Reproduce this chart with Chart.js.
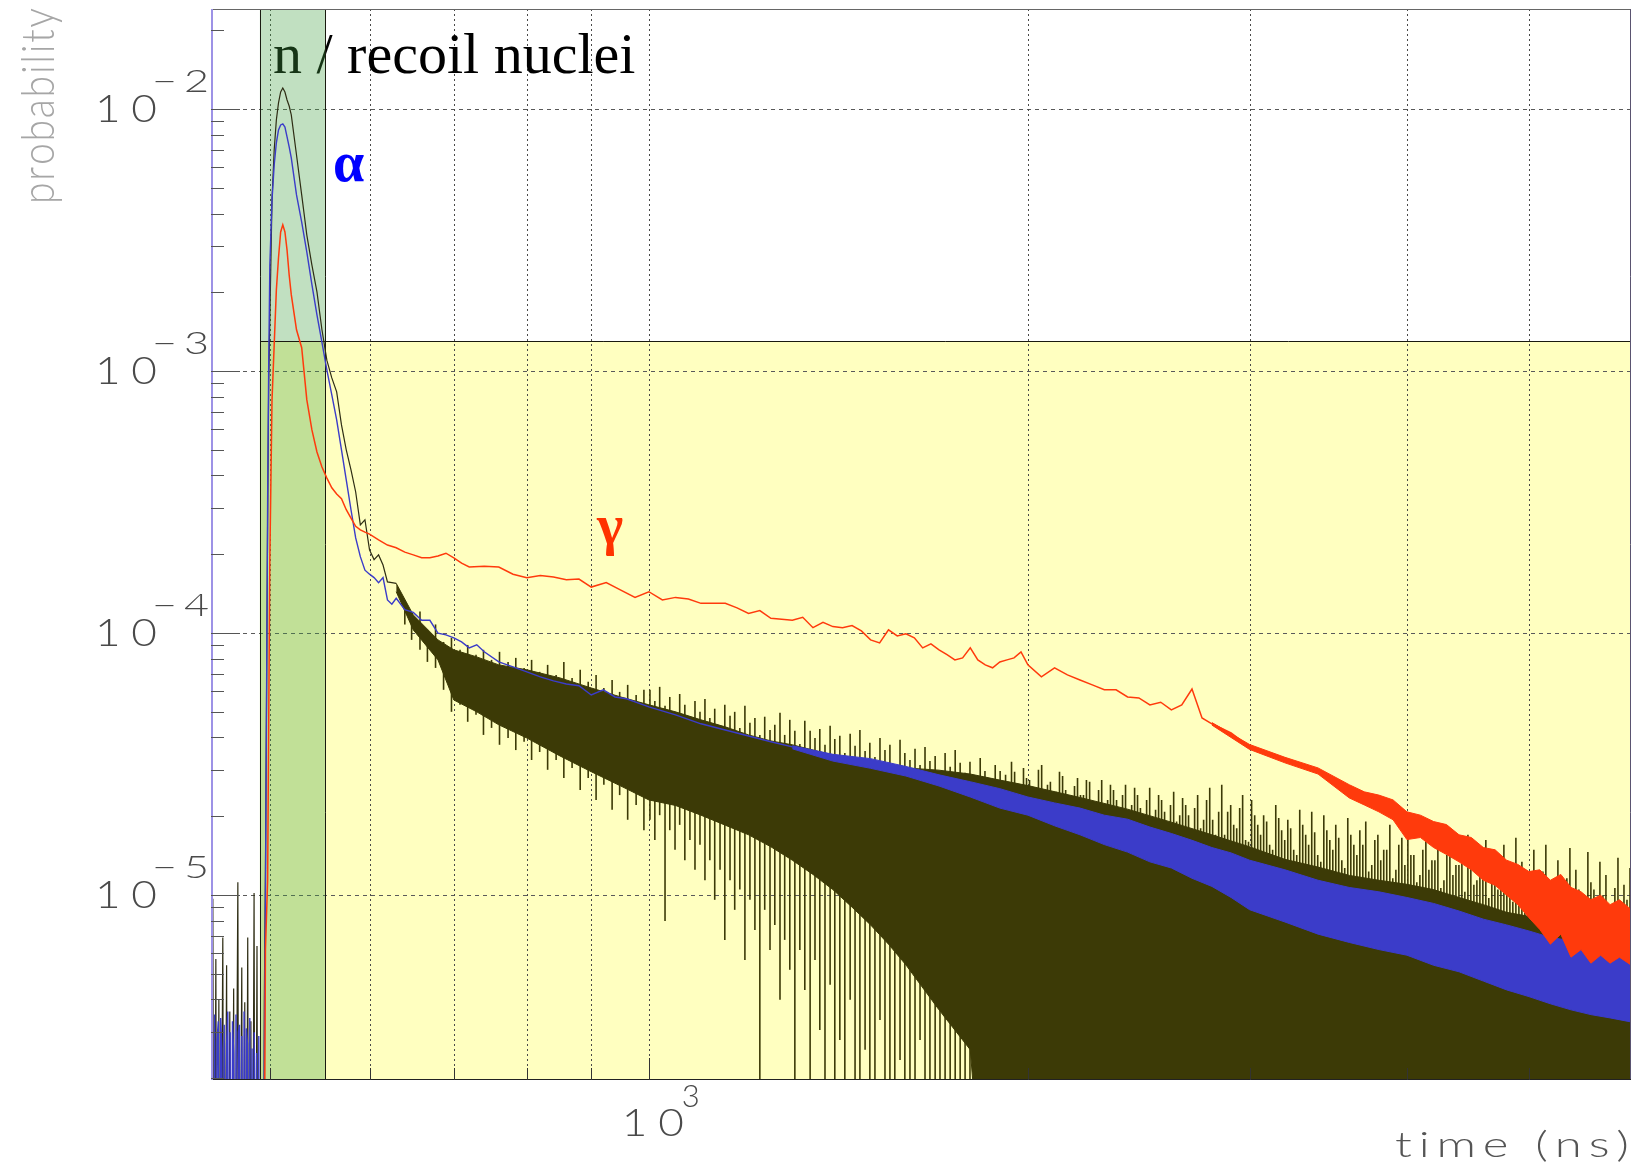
<!DOCTYPE html>
<html>
<head>
<meta charset="utf-8">
<script src="https://cdn.jsdelivr.net/npm/chart.js@4/dist/chart.umd.min.js"></script>
<style>
html, body { margin: 0; padding: 0; background: #ffffff; }
canvas { display: block; }
</style>
</head>
<body>
<canvas id="c" width="1632" height="1168" style="width:1632px;height:1168px"></canvas>
<script>
// ---------------- data ----------------
// gamma (red) histogram
const gammaTime = [450,494,496,498,500,502,504,506,508,510,512,514,516,518,520,
  525,530,535,540,545,550,555,560,565,570,575,580,585,590,595,600,
  610,620,630,640,650,660,670,680,690,700,710,720,
  740,760,780,800,820,840,860,880,900,
  925,950,975,1000,1025,1050,1075,1100,1125,1150,1175,1200,1225,1250,1275,1300,1325,1350,1375,1400,
  1425,1450,1475,1500,1525,1550,1575,1600,1625,1650,1675,1700,1725,1750,1775,1800,1825,1850,1875,1900,
  1925,1950,1975,2000,
  2050,2100,2150,2200,2250,2300,2350,2400,2450,2500,2550,2600,2650,2700,2750,2800,
  2900,3000,3100,3200,3300,3400,3500,3600,3700,3800,3900,4000,
  4200,4400,4600,4800,5000,5200,5400,5600,5800,6030];
const gammaProb = [1e-7,1e-7,6.2e-6,1.14e-5,1.91e-4,7.77e-4,1.26e-3,2.04e-3,2.71e-3,3.40e-3,3.62e-3,3.40e-3,2.90e-3,2.33e-3,1.96e-3,
  1.44e-3,1.23e-3,7.77e-4,5.97e-4,4.92e-4,4.31e-4,3.91e-4,3.59e-4,3.40e-4,3.26e-4,2.96e-4,2.75e-4,2.56e-4,2.48e-4,2.43e-4,2.39e-4,
  2.27e-4,2.17e-4,2.12e-4,2.04e-4,1.99e-4,1.94e-4,1.94e-4,1.97e-4,2.02e-4,1.94e-4,1.85e-4,1.79e-4,
  1.80e-4,1.79e-4,1.68e-4,1.63e-4,1.66e-4,1.64e-4,1.60e-4,1.61e-4,1.50e-4,
  1.56e-4,1.46e-4,1.37e-4,1.44e-4,1.34e-4,1.37e-4,1.35e-4,1.30e-4,1.30e-4,1.30e-4,1.25e-4,1.19e-4,1.22e-4,1.14e-4,1.13e-4,1.12e-4,1.15e-4,1.05e-4,1.10e-4,1.06e-4,
  1.05e-4,1.07e-4,1.02e-4,9.43e-5,9.18e-5,1.03e-4,9.76e-5,9.94e-5,9.60e-5,8.79e-5,9.10e-5,8.64e-5,8.28e-5,7.91e-5,8.05e-5,8.79e-5,7.91e-5,7.57e-5,7.38e-5,7.77e-5,
  7.91e-5,8.05e-5,8.49e-5,7.57e-5,
  6.81e-5,7.38e-5,6.93e-5,6.63e-5,6.35e-5,6.08e-5,6.08e-5,5.71e-5,5.66e-5,5.32e-5,5.45e-5,5.10e-5,5.32e-5,6.12e-5,4.75e-5,4.51e-5,
  4.16e-5,3.68e-5,3.46e-5,3.28e-5,3.09e-5,2.98e-5,2.80e-5,2.52e-5,2.37e-5,2.28e-5,2.15e-5,1.81e-5,
  1.71e-5,1.45e-5,1.29e-5,1.14e-5,9.6e-6,8.4e-6,8.0e-6,7.2e-6,7.0e-6,6.8e-6];
// gamma: spread of the noisy tail
const gammaBandTime = [2800,3000,3200,3400,3600,3700,3800,3900,4000,4100,4200,4300,4400,4500,4600,4700,4800,4900,5000,5100,5200,5300,5400,5500,5600,5700,5800,5900,6030];
const gammaBandHigh = [4.56e-5,3.76e-5,3.36e-5,3.06e-5,2.64e-5,2.48e-5,2.41e-5,2.31e-5,2.08e-5,2.02e-5,1.91e-5,1.86e-5,1.70e-5,1.66e-5,1.52e-5,1.49e-5,1.36e-5,1.31e-5,1.23e-5,1.25e-5,1.14e-5,1.20e-5,1.07e-5,1.03e-5,9.6e-6,1.0e-5,9.2e-6,9.6e-6,8.8e-6];
const gammaBandLow = [4.46e-5,3.6e-5,3.2e-5,2.9e-5,2.35e-5,2.21e-5,2.08e-5,1.94e-5,1.63e-5,1.66e-5,1.52e-5,1.43e-5,1.34e-5,1.25e-5,1.14e-5,1.09e-5,1.0e-5,9.2e-6,8.2e-6,7.4e-6,6.5e-6,7.1e-6,5.8e-6,6.2e-6,5.5e-6,5.9e-6,5.5e-6,5.8e-6,5.4e-6];

// alpha (blue) histogram
const alphaTime = [449,450,451,452,453,454,455,456,457,458,459,460,461,462,463,464,465,466,467,468,469,470,
  471,472,473,474,475,476,477,478,479,480,481,482,483,484,485,486,487,488,489,490,491,
  494,495,496,497,498,499,500,502,504,506,508,510,512,514,516,518,520,
  525,530,535,540,545,550,555,560,565,570,575,580,585,590,595,600,605,610,615,620,625,630,
  640,650,660,670,680,690,700,710,720,730,740,
  760,780,800,820,840,860,880,900,920,940,960,980,1000,
  1050,1100,1150,1200,1250,1300,1350,1400,1450,1500,1550,1600,1650,1700,1750,1800,1850,1900,1950,2000,
  2100,2200,2300,2400,2500,2600,2700,2800,
  3000,3200,3400,3600,3800,4000,4200,4400,4600,4800,5000,5200,5400,5600,5800,6030];
const alphaProb = [1e-7,3.1e-6,1e-7,3.5e-6,1e-7,2.8e-6,3.3e-6,1e-7,3.4e-6,2.6e-6,1e-7,3.2e-6,1e-7,2.7e-6,3.6e-6,1e-7,3.0e-6,1e-7,3.3e-6,2.5e-6,1e-7,3.5e-6,
  1e-7,3.0e-6,3.2e-6,1e-7,2.9e-6,1e-7,3.6e-6,1e-7,3.1e-6,2.7e-6,1e-7,3.4e-6,1e-7,2.6e-6,1e-7,3.0e-6,1e-7,2.5e-6,1e-7,2.9e-6,1e-7,
  1e-7,2.6e-6,9.6e-6,5.56e-5,3.23e-4,1.10e-3,2.54e-3,4.51e-3,6.13e-3,7.44e-3,8.34e-3,8.71e-3,8.79e-3,8.55e-3,7.84e-3,7.18e-3,6.52e-3,
  4.71e-3,3.71e-3,2.85e-3,2.14e-3,1.64e-3,1.29e-3,1.01e-3,8.12e-4,6.52e-4,5.01e-4,3.85e-4,2.96e-4,2.31e-4,1.96e-4,1.74e-4,1.68e-4,1.63e-4,1.56e-4,1.63e-4,1.34e-4,1.29e-4,1.36e-4,
  1.23e-4,1.20e-4,1.12e-4,1.12e-4,1.00e-4,9.86e-5,9.60e-5,9.27e-5,8.79e-5,9.03e-5,8.49e-5,
  7.77e-5,7.44e-5,7.12e-5,6.81e-5,6.58e-5,6.40e-5,6.30e-5,5.81e-5,6.08e-5,5.71e-5,5.62e-5,5.42e-5,5.23e-5,
  4.88e-5,4.51e-5,4.27e-5,4.05e-5,3.85e-5,3.68e-5,3.52e-5,3.37e-5,3.31e-5,3.20e-5,3.11e-5,2.98e-5,2.85e-5,2.73e-5,2.64e-5,2.54e-5,2.46e-5,2.37e-5,2.28e-5,2.19e-5,
  2.04e-5,1.91e-5,1.77e-5,1.67e-5,1.56e-5,1.48e-5,1.39e-5,1.31e-5,
  1.17e-5,1.05e-5,9.43e-6,8.64e-6,8.04e-6,7.50e-6,7.06e-6,6.63e-6,6.30e-6,5.92e-6,5.66e-6,5.42e-6,5.19e-6,4.96e-6,4.75e-6,4.59e-6];
// alpha: spread of the noisy tail
const alphaBandTime = [1300,1400,1500,1600,1700,1800,1900,2000,2100,2200,2300,2400,2500,2600,2700,2800,2900,3000,3200,3400,3600,3800,4000,4200,4400,4600,4800,5000,5200,5400,5600,5800,6030];
const alphaBandHigh = [3.72e-5,3.45e-5,3.32e-5,3.10e-5,2.88e-5,2.71e-5,2.55e-5,2.37e-5,2.25e-5,2.15e-5,2.02e-5,1.95e-5,1.82e-5,1.72e-5,1.62e-5,1.52e-5,1.45e-5,1.36e-5,1.25e-5,1.14e-5,1.07e-5,1.03e-5,9.8e-6,9.3e-6,8.7e-6,8.1e-6,7.7e-6,7.3e-6,6.9e-6,6.7e-6,6.45e-6,6.35e-6,6.2e-6];
const alphaBandLow = [3.62e-5,3.25e-5,3.05e-5,2.85e-5,2.61e-5,2.37e-5,2.15e-5,2.02e-5,1.84e-5,1.70e-5,1.56e-5,1.46e-5,1.34e-5,1.27e-5,1.16e-5,1.08e-5,9.8e-6,8.8e-6,7.9e-6,7.1e-6,6.6e-6,6.2e-6,5.9e-6,5.4e-6,5.1e-6,4.7e-6,4.35e-6,4.1e-6,3.85e-6,3.65e-6,3.5e-6,3.4e-6,3.28e-6];

// n / recoil nuclei (dark) histogram: clean part
const nTime = [449,450.5,451.5,453,454,455.5,456.5,458.8,459.8,462,463,464.7,465.7,468,469,471.6,472.6,475,476,477.6,478.6,480.2,481.2,483,484,485.8,486.8,488.4,489.4,
  494,495,496,497,498,499,500,502,504,506,508,510,512,514,516,518,520,
  525,530,535,540,545,550,555,560,565,570,575,580,585,590,595,600,605,610,615,620,625,630];
const nProb = [1e-7,9.7e-6,1e-7,5.7e-6,1e-7,4.0e-6,1e-7,6.9e-6,1e-7,5.4e-6,1e-7,3.6e-6,1e-7,4.4e-6,1e-7,1.12e-5,1e-7,5.3e-6,1e-7,3.9e-6,1e-7,6.9e-6,1e-7,3.3e-6,1e-7,1.02e-5,1e-7,6.4e-6,1e-7,
  1e-7,4.0e-6,1.25e-5,5.56e-5,2.71e-4,9.26e-4,1.57e-3,4.51e-3,6.99e-3,9.10e-3,1.057e-2,1.164e-2,1.206e-2,1.164e-2,1.085e-2,1.029e-2,9.51e-3,
  6.69e-3,4.71e-3,3.31e-3,2.54e-3,2.01e-3,1.44e-3,1.10e-3,9.43e-4,8.34e-4,6.24e-4,5.01e-4,4.20e-4,3.46e-4,2.59e-4,2.71e-4,2.08e-4,1.91e-4,1.99e-4,1.82e-4,1.57e-4,1.56e-4,1.55e-4];
// n / recoil nuclei: dense core of the noisy part (upper and lower edge)
const nBandTime = [630,650,680,700,730,760,800,850,900,950,1000,
  1050,1100,1150,1200,1250,1300,1350,1400,1450,1500,1550,1600,
  1700,1800,1900,2000,2200,2400,2600,2800,3000,
  3200,3400,3600,3800,4000,4200,4400,4600,4800,5000,5200,5400,5600,5800,6030];
const nBandHigh = [1.55e-4,1.174e-4,9.43e-5,8.64e-5,8.12e-5,7.57e-5,7.25e-5,6.75e-5,6.18e-5,5.71e-5,5.33e-5,
  5.01e-5,4.67e-5,4.39e-5,4.09e-5,3.88e-5,3.75e-5,3.58e-5,3.43e-5,3.34e-5,3.26e-5,3.14e-5,3.06e-5,
  3.0e-5,2.9e-5,2.75e-5,2.62e-5,2.36e-5,2.13e-5,1.90e-5,1.70e-5,1.53e-5,
  1.37e-5,1.28e-5,1.19e-5,1.14e-5,1.10e-5,1.05e-5,9.8e-6,9.2e-6,8.6e-6,8.3e-6,7.8e-6,7.6e-6,7.3e-6,7.2e-6,7.0e-6];
const nBandLow = [1.44e-4,1.029e-4,7.91e-5,5.56e-5,5.01e-5,4.47e-5,3.98e-5,3.40e-5,2.96e-5,2.61e-5,2.31e-5,
  2.2e-5,2.02e-5,1.85e-5,1.70e-5,1.53e-5,1.36e-5,1.2e-5,1.05e-5,9.0e-6,7.7e-6,6.5e-6,5.42e-6,
  3.65e-6,2.57e-6,1e-7,1e-7,1e-7,1e-7,1e-7,1e-7,1e-7,
  1e-7,1e-7,1e-7,1e-7,1e-7,1e-7,1e-7,1e-7,1e-7,1e-7,1e-7,1e-7,1e-7,1e-7,1e-7];
// n / recoil nuclei: individual bin-to-bin fluctuations (time, top, bottom)
const nSpikeTime = [640,648,658,667,677,687,697,708,718,729,739,750,761,773,784,796,807,819,831,844,856,869,882,895,908,921,935,948,962,977,991,
  1002,1011,1020,1030,1039,1049,1058,1068,1078,1088,1098,1108,1118,1128,1139,1149,1160,1170,1181,1192,
  1203,1214,1225,1236,1248,1259,1271,1282,1294,1306,1318,1330,1343,1355,1367,1380,1393,1405,1418,1431,
  1445,1458,1471,1485,1498,1512,1526,1540,1554,1568,1583,1597,1612,1627,1642,1657,1672,1688,1703,1719,
  1735,1751,1767,1783,1799,1816,1833,1849,1866,1884,1901,
  1920,1941,1963,1984,2006,2028,2051,2073,2096,2119,2143,2166,2190,2214,2239,2264,2289,2314,2339,2365,
  2391,2418,2444,2471,2499,2526,2554,2582,2611,2640,2669,2698,2728,2758,2789,2819,2851,2882,2914,2946,
  2978,3011,3045,3078,3112,3147,3181,3217,3252,3288,3324,3361,3398,3436,3474,3512,3551,3590,3630,3670,
  3710,3751,3793,3834,3877,3920,3963,4007,4051,4096,4141,4187,4233,4280,4327,4375,4423,4472,4521,4571,
  4621,4672,4724,4776,4829,4882,4936,4990,5045,5101,5157,5214,5272,5330,5389,5448,5509,5569,5631,5693,
  5756,5819,5884,5949,6015];
const nSpikeHigh = [1.28e-4,1.12e-4,1.21e-4,1.03e-4,1.08e-4,9.26e-5,9.6e-5,8.64e-5,9.02e-5,8.27e-5,8.64e-5,7.91e-5,8.49e-5,7.77e-5,8.05e-5,7.37e-5,7.91e-5,7.12e-5,7.57e-5,6.93e-5,7.77e-5,6.75e-5,7.25e-5,6.52e-5,6.93e-5,6.18e-5,6.63e-5,5.97e-5,6.35e-5,5.81e-5,6.08e-5,
  6.08e-5,5.51e-5,6.24e-5,5.28e-5,5.71e-5,5.01e-5,5.86e-5,5.33e-5,4.71e-5,5.51e-5,5.01e-5,5.61e-5,4.75e-5,5.15e-5,4.35e-5,5.33e-5,4.84e-5,5.01e-5,4.35e-5,5.28e-5,
  4.55e-5,4.75e-5,4.09e-5,4.80e-5,4.27e-5,4.47e-5,4.97e-5,4.09e-5,4.67e-5,4.24e-5,3.78e-5,4.63e-5,4.24e-5,3.98e-5,4.31e-5,3.75e-5,4.43e-5,3.95e-5,4.06e-5,3.49e-5,
  4.13e-5,3.72e-5,4.27e-5,3.55e-5,3.82e-5,3.37e-5,3.98e-5,3.58e-5,3.75e-5,3.14e-5,3.92e-5,3.49e-5,3.28e-5,3.62e-5,3.14e-5,3.68e-5,3.25e-5,3.40e-5,2.96e-5,3.49e-5,
  3.09e-5,3.58e-5,3.20e-5,2.93e-5,3.23e-5,2.71e-5,3.34e-5,2.98e-5,2.80e-5,3.14e-5,2.98e-5,
  2.88e-5,3.23e-5,2.52e-5,3.06e-5,2.75e-5,2.41e-5,3.14e-5,2.64e-5,2.31e-5,2.96e-5,2.52e-5,2.21e-5,2.80e-5,2.41e-5,2.71e-5,2.12e-5,2.75e-5,2.31e-5,2.52e-5,2.02e-5,
  2.64e-5,2.21e-5,2.41e-5,1.94e-5,2.57e-5,2.12e-5,2.31e-5,1.855e-5,2.48e-5,2.02e-5,2.21e-5,1.77e-5,2.41e-5,1.94e-5,2.57e-5,1.70e-5,2.64e-5,2.08e-5,1.855e-5,2.15e-5,
  1.625e-5,2.31e-5,1.855e-5,2.02e-5,1.556e-5,2.21e-5,1.77e-5,1.94e-5,1.49e-5,2.12e-5,1.70e-5,2.08e-5,1.425e-5,2.02e-5,1.625e-5,1.855e-5,1.36e-5,1.97e-5,1.556e-5,1.77e-5,
  1.91e-5,1.305e-5,1.70e-5,1.49e-5,1.855e-5,1.25e-5,1.655e-5,1.91e-5,1.425e-5,1.195e-5,1.74e-5,1.36e-5,1.556e-5,1.14e-5,1.80e-5,1.305e-5,1.49e-5,1.70e-5,1.095e-5,1.425e-5,
  1.625e-5,1.25e-5,1.05e-5,1.556e-5,1.195e-5,1.655e-5,1.34e-5,1.0e-5,1.49e-5,1.14e-5,1.556e-5,9.6e-6,1.36e-5,1.095e-5,1.515e-5,1.25e-5,9.18e-6,1.46e-5,1.05e-5,1.34e-5,
  1.195e-5,8.79e-6,1.39e-5,1.095e-5,1.27e-5];
const nSpikeLow = [1.08e-4,9.43e-5,8.64e-5,7.77e-5,7.37e-5,6.08e-5,5.01e-5,5.33e-5,4.59e-5,4.88e-5,4.09e-5,4.35e-5,3.75e-5,3.98e-5,3.58e-5,3.85e-5,3.28e-5,3.52e-5,3.01e-5,3.28e-5,2.80e-5,3.06e-5,2.52e-5,2.80e-5,2.31e-5,2.64e-5,2.12e-5,2.41e-5,1.94e-5,2.21e-5,1.77e-5,
  1.94e-5,1.625e-5,2.02e-5,7.97e-6,1.77e-5,1.49e-5,1.855e-5,1.36e-5,1.625e-5,1.25e-5,1.556e-5,1.14e-5,1.36e-5,9.6e-6,1.25e-5,6.75e-6,1.14e-5,8.79e-6,1.05e-5,5.66e-6,
  9.6e-6,7.37e-6,1e-7,8.79e-6,6.18e-6,7.70e-6,3.99e-6,6.75e-6,5.19e-6,1e-7,6.18e-6,4.35e-6,1e-7,5.66e-6,3.06e-6,1e-7,4.55e-6,1e-7,2.80e-6,1e-7,
  3.99e-6,1e-7,1e-7,2.57e-6,1e-7,1e-7,3.34e-6,1e-7,1e-7,1e-7,2.35e-6,1e-7,1e-7,1e-7,2.80e-6,1e-7,1e-7,1e-7,1e-7,1e-7,
  1e-7,1e-7,1e-7,1e-7,1e-7,1e-7,1e-7,1e-7,1e-7,1e-7,1e-7,
  1e-7,1e-7,1e-7,1e-7,1e-7,1e-7,1e-7,1e-7,1e-7,1e-7,1e-7,1e-7,1e-7,1e-7,1e-7,1e-7,1e-7,1e-7,1e-7,1e-7,
  1e-7,1e-7,1e-7,1e-7,1e-7,1e-7,1e-7,1e-7,1e-7,1e-7,1e-7,1e-7,1e-7,1e-7,1e-7,1e-7,1e-7,1e-7,1e-7,1e-7,
  1e-7,1e-7,1e-7,1e-7,1e-7,1e-7,1e-7,1e-7,1e-7,1e-7,1e-7,1e-7,1e-7,1e-7,1e-7,1e-7,1e-7,1e-7,1e-7,1e-7,
  1e-7,1e-7,1e-7,1e-7,1e-7,1e-7,1e-7,1e-7,1e-7,1e-7,1e-7,1e-7,1e-7,1e-7,1e-7,1e-7,1e-7,1e-7,1e-7,1e-7,
  1e-7,1e-7,1e-7,1e-7,1e-7,1e-7,1e-7,1e-7,1e-7,1e-7,1e-7,1e-7,1e-7,1e-7,1e-7,1e-7,1e-7,1e-7,1e-7,1e-7,
  1e-7,1e-7,1e-7,1e-7,1e-7];
// n / recoil nuclei: further fluctuations in the late tail (time, top, bottom)
const nSpike2Time = [1930,1952,1973,1995,2017,2039,2062,2084,2107,2131,2154,2178,2202,2226,2251,2276,2301,2326,2352,2378,
  2404,2431,2457,2485,2512,2540,2568,2596,2625,2654,2683,2713,2743,2773,2804,2835,2866,2898,2930,2962,
  2994,3028,3061,3095,3129,3164,3199,3234,3270,3306,3342,3379,3417,3455,3493,3531,3570,3610,3650,3690,
  3730,3772,3813,3855,3898,3941,3985,4029,4073,4118,4164,4210,4256,4303,4351,4399,4447,4496,4546,4596,
  4646,4698,4750,4802,4855,4909,4963,5017,5073,5129,5185,5243,5301,5359,5418,5478,5539,5600,5662,5724,
  5787,5851,5916,5982];
const nSpike2High = [2.64e-5,2.96e-5,2.41e-5,2.80e-5,2.57e-5,3.01e-5,2.35e-5,2.71e-5,2.48e-5,2.85e-5,
  2.31e-5,2.61e-5,2.41e-5,2.75e-5,2.21e-5,2.52e-5,2.08e-5,2.64e-5,2.31e-5,2.41e-5,
  2.02e-5,2.57e-5,2.15e-5,2.31e-5,1.97e-5,2.41e-5,2.08e-5,2.21e-5,1.91e-5,2.35e-5,
  2.02e-5,2.15e-5,1.80e-5,2.31e-5,1.94e-5,2.08e-5,1.70e-5,2.21e-5,1.80e-5,2.41e-5,
  1.60e-5,2.02e-5,1.70e-5,1.91e-5,1.49e-5,1.97e-5,1.625e-5,1.80e-5,1.425e-5,1.855e-5,
  1.556e-5,1.74e-5,1.34e-5,1.77e-5,1.49e-5,1.655e-5,1.27e-5,1.70e-5,1.425e-5,1.556e-5,
  1.23e-5,1.625e-5,1.36e-5,1.49e-5,1.16e-5,1.556e-5,1.305e-5,1.425e-5,1.12e-5,1.49e-5,
  1.25e-5,1.36e-5,1.066e-5,1.425e-5,1.195e-5,1.305e-5,1.03e-5,1.36e-5,1.14e-5,1.25e-5,
  9.76e-6,1.305e-5,1.095e-5,1.195e-5,9.43e-6,1.25e-5,1.05e-5,1.14e-5,8.95e-6,1.23e-5,
  1.0e-5,1.095e-5,8.64e-6,1.16e-5,9.6e-6,1.05e-5,8.19e-6,1.12e-5,9.18e-6,1.0e-5,
  7.91e-6,1.066e-5,8.79e-6,9.6e-6];
const nSpike2Low = [1e-7,1e-7,1e-7,1e-7,1e-7,1e-7,1e-7,1e-7,1e-7,1e-7,1e-7,1e-7,1e-7,1e-7,1e-7,1e-7,1e-7,1e-7,1e-7,1e-7,
  1e-7,1e-7,1e-7,1e-7,1e-7,1e-7,1e-7,1e-7,1e-7,1e-7,1e-7,1e-7,1e-7,1e-7,1e-7,1e-7,1e-7,1e-7,1e-7,1e-7,
  1e-7,1e-7,1e-7,1e-7,1e-7,1e-7,1e-7,1e-7,1e-7,1e-7,1e-7,1e-7,1e-7,1e-7,1e-7,1e-7,1e-7,1e-7,1e-7,1e-7,
  1e-7,1e-7,1e-7,1e-7,1e-7,1e-7,1e-7,1e-7,1e-7,1e-7,1e-7,1e-7,1e-7,1e-7,1e-7,1e-7,1e-7,1e-7,1e-7,1e-7,
  1e-7,1e-7,1e-7,1e-7,1e-7,1e-7,1e-7,1e-7,1e-7,1e-7,1e-7,1e-7,1e-7,1e-7,1e-7,1e-7,1e-7,1e-7,1e-7,1e-7,
  1e-7,1e-7,1e-7,1e-7];

// axes, ticks and labels
const xRange = [449, 6026];
const yRange = [1.97e-6, 0.02414];
const xGridTicks = [500, 600, 700, 800, 900, 1000, 2000, 3000, 4000, 5000];
const xLabelTicks = [1000];
const xLabelExponents = ['3'];
const yDecades = [1e-5, 1e-4, 1e-3, 1e-2];
const yLabelExponents = ['\u22125', '\u22124', '\u22123', '\u22122'];
const xTitle = 'time (ns)';
const yTitle = 'probability';
// highlighted regions: [start time, end time] and [start time, top probability]
const nRegion = [491, 553.5];
const lateRegion = [491, 1.3e-3];
const regionTexts = { n: 'n / recoil nuclei', alpha: '\u03b1', gamma: '\u03b3' };

// ---------------- styling ----------------
const N_COLOR = '#3c3a06';
const ALPHA_COLOR = '#3b3cc9';
const GAMMA_COLOR = '#ff3a0c';
const ROOT_FONT = 'Lato, "DejaVu Sans", sans-serif';
const SERIF = '"Liberation Serif", "Times New Roman", serif';

const pts = (xs, ys) => xs.map((v, i) => ({ x: v, y: ys[i] }));
const ranges = (xs, lo, hi) => xs.map((v, i) => ({ x: v, y: [lo[i], hi[i]] }));
function series(label, xs, ys, color, order, extra) {
  return Object.assign({
    label, data: pts(xs, ys), borderColor: color, backgroundColor: color,
    borderWidth: 1.2, pointRadius: 0, fill: false, tension: 0, order
  }, extra || {});
}
function spikes(label, xs, lo, hi, color, order) {
  return {
    type: 'bar', label, data: ranges(xs, lo, hi), backgroundColor: color,
    borderWidth: 0, grouped: false, maxBarThickness: 1.6, order
  };
}

function rootText(ctx, str, x, y, size, color, targetWidth, spacing, weight) {
  ctx.save();
  ctx.font = `${weight || 300} ${size}px ${ROOT_FONT}`;
  ctx.fillStyle = color;
  ctx.textBaseline = 'alphabetic';
  ctx.textAlign = 'left';
  const chars = Array.from(str);
  const w = chars.map(c => ctx.measureText(c).width);
  const natural = w.reduce((s, v) => s + v, 0) + spacing * (chars.length - 1);
  const sx = targetWidth ? targetWidth / natural : 1;
  ctx.translate(x, y);
  ctx.scale(sx, 1);
  let cx = 0;
  chars.forEach((c, i) => { ctx.fillText(c, cx, 0); cx += w[i] + spacing; });
  ctx.restore();
}

const decor = {
  id: 'decor',
  beforeDatasetsDraw(chart) {
    const { ctx, chartArea: a, scales: { x, y } } = chart;
    ctx.save();
    const lx = x.getPixelForValue(lateRegion[0]);
    const ty = y.getPixelForValue(lateRegion[1]);
    ctx.fillStyle = '#ffffc0';
    ctx.fillRect(lx, ty, a.right - lx, a.bottom - ty);

    ctx.lineWidth = 1;
    ctx.strokeStyle = '#5a5a5a';
    ctx.setLineDash([4, 4]);
    yDecades.forEach(v => {
      const py = Math.round(y.getPixelForValue(v)) + 0.5;
      ctx.beginPath(); ctx.moveTo(a.left, py); ctx.lineTo(a.right, py); ctx.stroke();
    });
    ctx.setLineDash([2, 3]);
    ctx.strokeStyle = '#4a4a4a';
    xGridTicks.forEach(v => {
      const px = Math.round(x.getPixelForValue(v)) + 0.5;
      ctx.beginPath(); ctx.moveTo(px, a.top); ctx.lineTo(px, a.bottom); ctx.stroke();
    });
    ctx.setLineDash([]);

    ctx.font = `58px ${SERIF}`;
    ctx.fillStyle = '#000';
    ctx.textBaseline = 'alphabetic';
    ctx.fillText(regionTexts.n, 273, 73);

    const g0 = x.getPixelForValue(nRegion[0]);
    const g1 = x.getPixelForValue(nRegion[1]);
    ctx.fillStyle = 'rgba(66,162,66,0.33)';
    ctx.fillRect(g0, a.top, g1 - g0, a.bottom - a.top);

    ctx.strokeStyle = '#1a1a10';
    ctx.lineWidth = 1;
    ctx.beginPath();
    ctx.moveTo(Math.round(lx) + 0.5, a.bottom);
    ctx.lineTo(Math.round(lx) + 0.5, Math.round(ty) + 0.5);
    ctx.lineTo(a.right, Math.round(ty) + 0.5);
    ctx.stroke();
    ctx.beginPath();
    ctx.moveTo(Math.round(g0) + 0.5, a.top); ctx.lineTo(Math.round(g0) + 0.5, a.bottom);
    ctx.moveTo(Math.round(g1) + 0.5, a.top); ctx.lineTo(Math.round(g1) + 0.5, a.bottom);
    ctx.stroke();
    ctx.restore();
  },
  afterDatasetsDraw(chart) {
    const { ctx, chartArea: a, scales: { x, y } } = chart;
    ctx.save();
    ctx.lineWidth = 1;
    ctx.strokeStyle = '#666';
    ctx.beginPath(); ctx.moveTo(a.left, a.top + 0.5); ctx.lineTo(a.right, a.top + 0.5); ctx.stroke();
    ctx.strokeStyle = '#5a5470';
    ctx.beginPath(); ctx.moveTo(a.right - 0.5, a.top); ctx.lineTo(a.right - 0.5, a.bottom); ctx.stroke();
    ctx.strokeStyle = '#222';
    ctx.beginPath(); ctx.moveTo(a.left, a.bottom - 0.5); ctx.lineTo(a.right, a.bottom - 0.5); ctx.stroke();
    ctx.strokeStyle = '#9d92e6';
    ctx.lineWidth = 2;
    ctx.beginPath(); ctx.moveTo(a.left + 1, a.top); ctx.lineTo(a.left + 1, a.bottom); ctx.stroke();

    // y-axis ticks (inside)
    ctx.lineWidth = 1;
    ctx.strokeStyle = '#555';
    for (let e = -6; e <= -1; e++) {
      for (let m = 1; m <= 9; m++) {
        const v = m * Math.pow(10, e);
        if (v < y.min || v > y.max) continue;
        const py = Math.round(y.getPixelForValue(v)) + 0.5;
        const len = m === 1 ? 29 : 13;
        ctx.beginPath(); ctx.moveTo(a.left, py); ctx.lineTo(a.left + len, py); ctx.stroke();
      }
    }
    // x-axis ticks (inside, bottom)
    ctx.strokeStyle = '#333';
    xGridTicks.forEach(v => {
      const px = Math.round(x.getPixelForValue(v)) + 0.5;
      const len = v === 1000 ? 22 : 12;
      ctx.beginPath(); ctx.moveTo(px, a.bottom); ctx.lineTo(px, a.bottom - len); ctx.stroke();
    });

    // tick labels
    const labelColor = '#4a4a4a';
    yDecades.forEach((v, i) => {
      const py = y.getPixelForValue(v);
      rootText(ctx, '10', 95, py + 13, 37, labelColor, 62, 9);
      rootText(ctx, yLabelExponents[i], 152, py - 17, 31, labelColor, 57, 5);
    });
    xLabelTicks.forEach((v, i) => {
      const px = x.getPixelForValue(v);
      rootText(ctx, '10', px - 27, 1136, 37, labelColor, 62, 9);
      rootText(ctx, xLabelExponents[i], px + 33, 1107, 31, labelColor, 0, 0);
    });

    // axis titles
    rootText(ctx, xTitle, 1395, 1157, 36, '#555', 234, 5);
    ctx.save();
    ctx.translate(54, 204);
    ctx.rotate(-Math.PI / 2);
    rootText(ctx, yTitle, 0, 0, 46, '#a6a6a6', 196, 2);
    ctx.restore();

    // species labels
    ctx.font = `bold 56px ${SERIF}`;
    ctx.fillStyle = '#0000ff';
    ctx.fillText(regionTexts.alpha, 333, 181);
    ctx.fillStyle = '#ff3300';
    ctx.fillText(regionTexts.gamma, 597, 544);
    ctx.restore();
  }
};

const datasets = [
  series('n / recoil nuclei (core upper)', nBandTime, nBandHigh, N_COLOR, 3, { fill: '+1', borderWidth: 1 }),
  series('n / recoil nuclei (core lower)', nBandTime, nBandLow, N_COLOR, 3, { borderWidth: 1 }),
  spikes('n / recoil nuclei (fluctuations)', nSpikeTime, nSpikeLow, nSpikeHigh, N_COLOR, 3),
  spikes('n / recoil nuclei (late fluctuations)', nSpike2Time, nSpike2Low, nSpike2High, N_COLOR, 3),
  series('n / recoil nuclei', nTime, nProb, '#2e2d14', 3),
  series('alpha (upper)', alphaBandTime, alphaBandHigh, ALPHA_COLOR, 2, { fill: '+1', borderWidth: 1 }),
  series('alpha (lower)', alphaBandTime, alphaBandLow, ALPHA_COLOR, 2, { borderWidth: 1 }),
  series('alpha', alphaTime, alphaProb, ALPHA_COLOR, 2, { borderWidth: 1.4 }),
  series('gamma (upper)', gammaBandTime, gammaBandHigh, GAMMA_COLOR, 1, { fill: '+1', borderWidth: 1 }),
  series('gamma (lower)', gammaBandTime, gammaBandLow, GAMMA_COLOR, 1, { borderWidth: 1 }),
  series('gamma', gammaTime, gammaProb, GAMMA_COLOR, 1, { borderWidth: 1.5 })
];

new Chart(document.getElementById('c'), {
  type: 'line',
  data: { datasets },
  options: {
    responsive: false,
    animation: false,
    events: [],
    devicePixelRatio: 1,
    layout: { padding: { left: 211, top: 9, right: 1, bottom: 88 } },
    scales: {
      x: { type: 'logarithmic', min: xRange[0], max: xRange[1], display: false, offset: false },
      y: { type: 'logarithmic', min: yRange[0], max: yRange[1], display: false }
    },
    plugins: { legend: { display: false }, tooltip: { enabled: false } }
  },
  plugins: [decor]
});
</script>
</body>
</html>
